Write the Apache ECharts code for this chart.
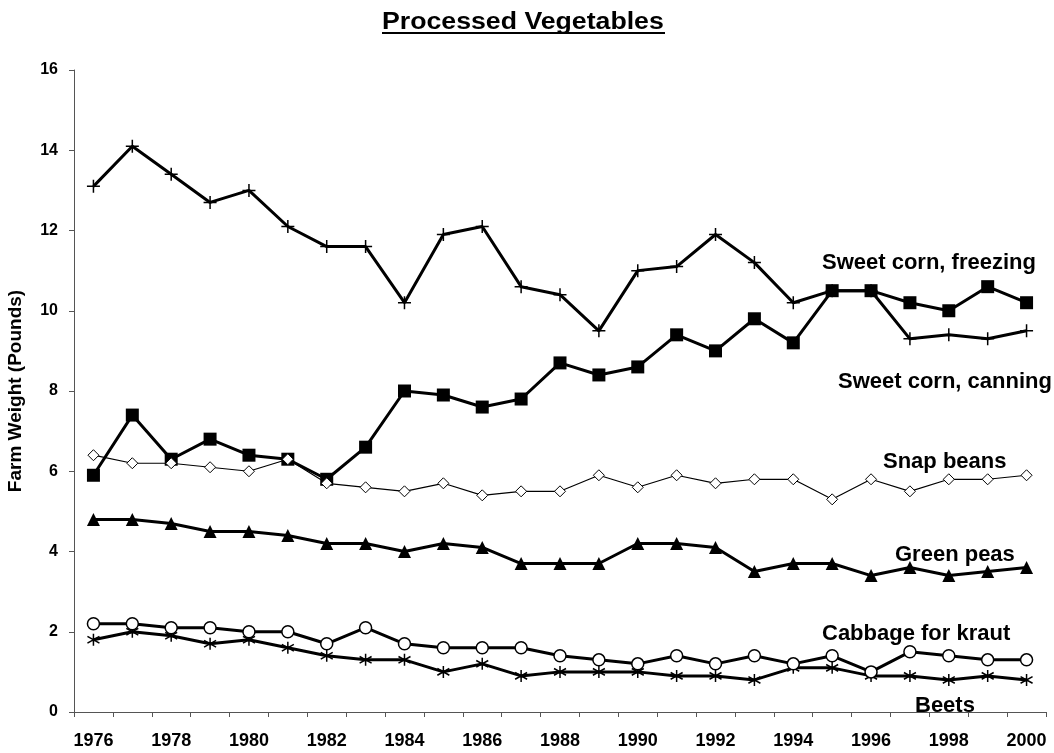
<!DOCTYPE html>
<html>
<head>
<meta charset="utf-8">
<title>Processed Vegetables</title>
<script src="https://cdn.jsdelivr.net/npm/echarts@6/dist/echarts.min.js"></script>
<style>
  html, body { margin: 0; padding: 0; background: #fff; }
  #main { width: 1054px; height: 753px; }
</style>
</head>
<body>
<div id="main"></div>
<script>
  // categories
  var years = ['1976','1977','1978','1979','1980','1981','1982','1983','1984','1985','1986','1987','1988',
               '1989','1990','1991','1992','1993','1994','1995','1996','1997','1998','1999','2000'];

  // pounds per capita
  var cornCanning  = [13.1,14.1,13.4,12.7,13.0,12.1,11.6,11.6,10.2,11.9,12.1,10.6,10.4,9.5,11.0,11.1,11.9,11.2,10.2,10.5,10.5,9.3,9.4,9.3,9.5];
  var cornFreezing = [5.9,7.4,6.3,6.8,6.4,6.3,5.8,6.6,8.0,7.9,7.6,7.8,8.7,8.4,8.6,9.4,9.0,9.8,9.2,10.5,10.5,10.2,10.0,10.6,10.2];
  var snapBeans    = [6.4,6.2,6.2,6.1,6.0,6.3,5.7,5.6,5.5,5.7,5.4,5.5,5.5,5.9,5.6,5.9,5.7,5.8,5.8,5.3,5.8,5.5,5.8,5.8,5.9];
  var greenPeas    = [4.8,4.8,4.7,4.5,4.5,4.4,4.2,4.2,4.0,4.2,4.1,3.7,3.7,3.7,4.2,4.2,4.1,3.5,3.7,3.7,3.4,3.6,3.4,3.5,3.6];
  var cabbage      = [2.2,2.2,2.1,2.1,2.0,2.0,1.7,2.1,1.7,1.6,1.6,1.6,1.4,1.3,1.2,1.4,1.2,1.4,1.2,1.4,1.0,1.5,1.4,1.3,1.3];
  var beets        = [1.8,2.0,1.9,1.7,1.8,1.6,1.4,1.3,1.3,1.0,1.2,0.9,1.0,1.0,1.0,0.9,0.9,0.8,1.1,1.1,0.9,0.9,0.8,0.9,0.8];

  var FONT = '"Liberation Sans", Arial, sans-serif';

  var plusSymbol = 'path://M0,5L10,5M5,0L5,10';
  var starSymbol = 'path://M5,0L5,10M0.8,2.2L9.2,7.8M0.8,7.8L9.2,2.2';

  var myChart = echarts.init(document.getElementById('main'));

  function label(text, x, y) {
    return {
      type: 'text',
      left: x,
      top: y,
      style: {
        text: text,
        fill: '#000',
        font: 'bold 22px ' + FONT
      }
    };
  }

  myChart.setOption({
    animation: false,
    grid: { left: 74, right: 8, top: 70, bottom: 41, outerBoundsMode: 'none' },
    graphic: [
      {
        type: 'text',
        x: 382,
        y: 11,
        scaleX: 1.16,
        style: { text: 'Processed Vegetables', fill: '#000', font: 'bold 23px ' + FONT }
      },
      {
        type: 'line',
        shape: { x1: 382, y1: 33, x2: 665, y2: 33 },
        style: { stroke: '#000', lineWidth: 2 }
      },
      label('Sweet corn, freezing', 822, 252),
      label('Sweet corn, canning', 838, 371),
      label('Snap beans', 883, 451),
      label('Green peas', 895, 544),
      label('Cabbage for kraut', 822, 623),
      label('Beets', 915, 695)
    ],
    xAxis: {
      type: 'category',
      data: years,
      boundaryGap: true,
      axisLine: { lineStyle: { color: '#555', width: 1 } },
      axisTick: { show: true, interval: 0, length: 5, lineStyle: { color: '#555' } },
      axisLabel: {
        interval: 1,
        color: '#000',
        fontFamily: FONT,
        fontWeight: 'bold',
        fontSize: 18,
        margin: 20
      },
      splitLine: { show: false }
    },
    yAxis: {
      type: 'value',
      min: 0,
      max: 16,
      interval: 2,
      name: 'Farm Weight (Pounds)',
      nameLocation: 'middle',
      nameGap: 49,
      nameRotate: 90,
      nameTextStyle: { color: '#000', fontFamily: FONT, fontWeight: 'bold', fontSize: 19 },
      axisLine: { show: true, lineStyle: { color: '#555', width: 1 } },
      axisTick: { show: true, inside: false, length: 5, lineStyle: { color: '#555' } },
      axisLabel: {
        color: '#000',
        fontFamily: FONT,
        fontWeight: 'bold',
        fontSize: 16,
        margin: 16
      },
      splitLine: { show: false }
    },
    series: [
      {
        name: 'Sweet corn, canning',
        type: 'line',
        data: cornCanning,
        symbol: plusSymbol,
        symbolSize: 13,
        lineStyle: { color: '#000', width: 3 },
        itemStyle: { color: '#000', borderColor: '#000', borderWidth: 1.5 }
      },
      {
        name: 'Sweet corn, freezing',
        type: 'line',
        data: cornFreezing,
        symbol: 'rect',
        symbolSize: 13,
        lineStyle: { color: '#000', width: 3 },
        itemStyle: { color: '#000', borderWidth: 0 }
      },
      {
        name: 'Snap beans',
        type: 'line',
        data: snapBeans,
        symbol: 'diamond',
        symbolSize: 11,
        lineStyle: { color: '#000', width: 1.2 },
        itemStyle: { color: '#fff', borderColor: '#000', borderWidth: 1 }
      },
      {
        name: 'Green peas',
        type: 'line',
        data: greenPeas,
        symbol: 'triangle',
        symbolSize: 13,
        lineStyle: { color: '#000', width: 3 },
        itemStyle: { color: '#000', borderWidth: 0 }
      },
      {
        name: 'Beets',
        type: 'line',
        data: beets,
        symbol: starSymbol,
        symbolSize: 12,
        lineStyle: { color: '#000', width: 3 },
        itemStyle: { color: '#000', borderColor: '#000', borderWidth: 1.5 }
      },
      {
        name: 'Cabbage for kraut',
        type: 'line',
        data: cabbage,
        symbol: 'circle',
        symbolSize: 12,
        lineStyle: { color: '#000', width: 3 },
        itemStyle: { color: '#fff', borderColor: '#000', borderWidth: 1.5 }
      }
    ]
  });
  window.addEventListener('resize', myChart.resize);
</script>
</body>
</html>
